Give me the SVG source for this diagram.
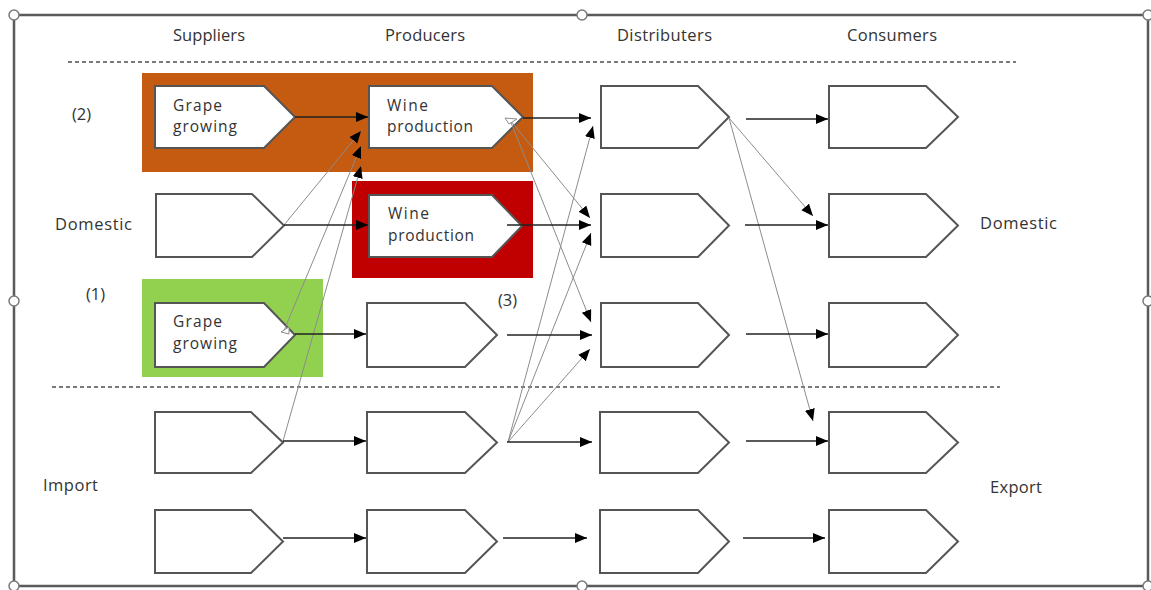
<svg xmlns="http://www.w3.org/2000/svg" width="1151" height="590" viewBox="0 0 1151 590">
  <style>
    .frame { fill: none; stroke: #5a5a5a; stroke-width: 2.5; }
    .handle { fill: #ffffff; stroke: #7a7a7a; stroke-width: 1.5; }
    .divider { stroke: #7a7a7a; stroke-width: 2; stroke-dasharray: 4 3; fill: none; }
    .node { fill: #ffffff; stroke: #555555; stroke-width: 2; stroke-linejoin: miter; }
    .label { font-family: "Open Sans", "Liberation Sans", sans-serif; font-size: 16.5px; fill: #333333; }
    .ntext { font-family: "Open Sans", "Liberation Sans", sans-serif; font-size: 15.5px; fill: #333333; }
    .flow { stroke: #222222; stroke-width: 1.6; fill: none; }
    .link { stroke: #8c8c8c; stroke-width: 1; fill: none; }
    .stub { fill: #ffffff; stroke: #8c8c8c; stroke-width: 1; }
  </style>
  <defs>
    <marker id="head" markerUnits="userSpaceOnUse" markerWidth="13" markerHeight="11" refX="12" refY="5" orient="auto">
      <path d="M0,0 L12,5 L0,10 z" fill="#000000"/>
    </marker>
  </defs>

  <!-- outer frame with selection handles -->
  <rect class="frame" x="14" y="15" width="1134" height="571"/>
  <g id="handles">
    <circle class="handle" cx="14" cy="15" r="5"/>
    <circle class="handle" cx="582" cy="15" r="5"/>
    <circle class="handle" cx="1148" cy="15" r="5"/>
    <circle class="handle" cx="14" cy="301" r="5"/>
    <circle class="handle" cx="1148" cy="301" r="5"/>
    <circle class="handle" cx="14" cy="586" r="5"/>
    <circle class="handle" cx="582" cy="586" r="5"/>
    <circle class="handle" cx="1148" cy="586" r="5"/>
  </g>

  <!-- column headers -->
  <g id="headers">
    <text class="label" x="209" y="41" text-anchor="middle" textLength="72">Suppliers</text>
    <text class="label" x="425" y="41" text-anchor="middle" textLength="80">Producers</text>
    <text class="label" x="664.5" y="41" text-anchor="middle" textLength="95">Distributers</text>
    <text class="label" x="892" y="41" text-anchor="middle" textLength="90">Consumers</text>
  </g>

  <!-- dashed separators -->
  <line class="divider" x1="68" y1="62" x2="1016" y2="62"/>
  <line class="divider" x1="52" y1="387" x2="1000" y2="387"/>

  <!-- highlight backgrounds -->
  <rect id="highlight-2" x="142" y="73" width="391" height="99" fill="#c55a11"/>
  <rect id="highlight-red" x="352" y="181" width="181" height="97" fill="#c00000"/>
  <rect id="highlight-1" x="142" y="279" width="181" height="98" fill="#92d050"/>

  <!-- side labels -->
  <g id="side-labels">
    <text class="label" x="72" y="120">(2)</text>
    <text class="label" x="55" y="230" textLength="77">Domestic</text>
    <text class="label" x="86" y="300">(1)</text>
    <text class="label" x="498" y="306">(3)</text>
    <text class="label" x="43" y="491" textLength="55">Import</text>
    <text class="label" x="980" y="229" textLength="77">Domestic</text>
    <text class="label" x="990" y="493" textLength="52">Export</text>
  </g>

  <!-- suppliers -->
  <g id="supplier-grape-2">
    <path class="node" d="M155,86 H264 L295,117 L264,148 H155 Z"/>
    <text class="ntext" x="173" y="110.5" textLength="49">Grape</text>
    <text class="ntext" x="173" y="132" textLength="64">growing</text>
  </g>
  <g id="supplier-domestic">
    <path class="node" d="M156,194 H252 L284,225.5 L252,257 H156 Z"/>
  </g>
  <g id="supplier-grape-1">
    <path class="node" d="M155,303 H264 L295,335 L264,367 H155 Z"/>
    <text class="ntext" x="173" y="327" textLength="49">Grape</text>
    <text class="ntext" x="173" y="348.5" textLength="64">growing</text>
  </g>
  <g id="supplier-import-a">
    <path class="node" d="M155,412 H251 L283,442.5 L251,473 H155 Z"/>
  </g>
  <g id="supplier-import-b">
    <path class="node" d="M155,510 H251 L283,541.5 L251,573 H155 Z"/>
  </g>

  <!-- producers -->
  <g id="producer-wine-2">
    <path class="node" d="M369,86 H492 L523,117 L492,148 H369 Z"/>
    <text class="ntext" x="387" y="110.5" textLength="41">Wine</text>
    <text class="ntext" x="387" y="132" textLength="86">production</text>
  </g>
  <g id="producer-wine-red">
    <path class="node" d="M369,195 H492 L522,226 L492,257 H369 Z"/>
    <text class="ntext" x="388" y="219" textLength="41">Wine</text>
    <text class="ntext" x="388" y="240.5" textLength="86">production</text>
  </g>
  <g id="producer-3">
    <path class="node" d="M367,303 H465 L497,335 L465,367 H367 Z"/>
  </g>
  <g id="producer-4">
    <path class="node" d="M367,412 H465 L497,442.5 L465,473 H367 Z"/>
  </g>
  <g id="producer-5">
    <path class="node" d="M367,510 H465 L497,541.5 L465,573 H367 Z"/>
  </g>

  <!-- distributers -->
  <g id="distributer-1">
    <path class="node" d="M601,86 H698 L729,117 L698,148 H601 Z"/>
  </g>
  <g id="distributer-2">
    <path class="node" d="M601,194 H698 L729,225.5 L698,257 H601 Z"/>
  </g>
  <g id="distributer-3">
    <path class="node" d="M601,303 H698 L729,335 L698,367 H601 Z"/>
  </g>
  <g id="distributer-4">
    <path class="node" d="M600,412 H698 L729,442.5 L698,473 H600 Z"/>
  </g>
  <g id="distributer-5">
    <path class="node" d="M600,510 H698 L729,541.5 L698,573 H600 Z"/>
  </g>

  <!-- consumers -->
  <g id="consumer-1">
    <path class="node" d="M829,86 H926 L958,117 L926,148 H829 Z"/>
  </g>
  <g id="consumer-2">
    <path class="node" d="M829,194 H926 L958,225.5 L926,257 H829 Z"/>
  </g>
  <g id="consumer-3">
    <path class="node" d="M829,303 H926 L958,335 L926,367 H829 Z"/>
  </g>
  <g id="consumer-4">
    <path class="node" d="M829,412 H926 L958,442.5 L926,473 H829 Z"/>
  </g>
  <g id="consumer-5">
    <path class="node" d="M829,510 H926 L958,541.5 L926,573 H829 Z"/>
  </g>

  <!-- connectors -->
  <g id="connectors">
    <!-- cross links -->
    <line class="link" x1="284" y1="225" x2="361" y2="131" marker-end="url(#head)"/>
    <line class="link" x1="283" y1="333" x2="361" y2="146" marker-end="url(#head)"/>
    <line class="link" x1="283" y1="441" x2="361" y2="166" marker-end="url(#head)"/>
    <line class="link" x1="510" y1="120" x2="590" y2="218" marker-end="url(#head)"/>
    <line class="link" x1="510" y1="120" x2="591" y2="322" marker-end="url(#head)"/>
    <line class="link" x1="508" y1="442" x2="593" y2="126" marker-end="url(#head)"/>
    <line class="link" x1="508" y1="442" x2="591" y2="233" marker-end="url(#head)"/>
    <line class="link" x1="508" y1="442" x2="590" y2="349" marker-end="url(#head)"/>
    <line class="link" x1="729" y1="118" x2="813" y2="216" marker-end="url(#head)"/>
    <line class="link" x1="729" y1="118" x2="813" y2="421" marker-end="url(#head)"/>
    <path class="stub" d="M505,118 L517,119 L509,124 Z"/>
    <path class="stub" d="M281,332 L289,327 L289,334 Z"/>

    <!-- suppliers to producers -->
    <line class="flow" x1="295" y1="117" x2="368" y2="117" marker-end="url(#head)"/>
    <line class="flow" x1="284" y1="225" x2="368" y2="225" marker-end="url(#head)"/>
    <line class="flow" x1="295" y1="334" x2="366" y2="334" marker-end="url(#head)"/>
    <line class="flow" x1="283" y1="441" x2="366" y2="441" marker-end="url(#head)"/>
    <line class="flow" x1="283" y1="538" x2="366" y2="538" marker-end="url(#head)"/>

    <!-- producers to distributers -->
    <line class="flow" x1="523" y1="118" x2="591" y2="118" marker-end="url(#head)"/>
    <line class="flow" x1="507" y1="225" x2="591" y2="225" marker-end="url(#head)"/>
    <line class="flow" x1="507" y1="335" x2="592" y2="335" marker-end="url(#head)"/>
    <line class="flow" x1="507" y1="442" x2="592" y2="442" marker-end="url(#head)"/>
    <line class="flow" x1="503" y1="538" x2="587" y2="538" marker-end="url(#head)"/>

    <!-- distributers to consumers -->
    <line class="flow" x1="746" y1="119" x2="828" y2="119" marker-end="url(#head)"/>
    <line class="flow" x1="745" y1="225" x2="828" y2="225" marker-end="url(#head)"/>
    <line class="flow" x1="746" y1="334" x2="828" y2="334" marker-end="url(#head)"/>
    <line class="flow" x1="746" y1="441" x2="828" y2="441" marker-end="url(#head)"/>
    <line class="flow" x1="743" y1="538" x2="825" y2="538" marker-end="url(#head)"/>
  </g>
</svg>
